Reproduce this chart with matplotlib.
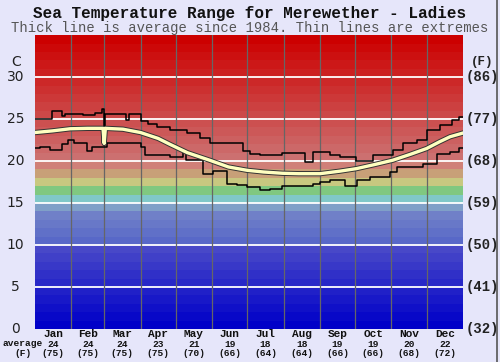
import matplotlib
matplotlib.use('Agg')
import matplotlib.pyplot as plt
import matplotlib.patheffects as pe
import numpy as np

# monthly table under the chart
months = ['Jan', 'Feb', 'Mar', 'Apr', 'May', 'Jun', 'Jul', 'Aug', 'Sep', 'Oct', 'Nov', 'Dec']
avg_c = [24, 24, 24, 23, 21, 19, 18, 18, 19, 19, 20, 22]
avg_f = [75, 75, 75, 75, 70, 66, 64, 64, 66, 66, 68, 72]
month_days = [31, 28, 31, 30, 31, 30, 31, 31, 30, 31, 30, 31]

# average line (day of year, deg C)
avg_day = [0, 15, 30, 45, 58, 59, 60, 75, 90, 105, 115, 130, 149, 165, 181, 195,
           211, 225, 243, 260, 274, 290, 305, 320, 334, 345, 354, 364]
avg_val = [23.4, 23.6, 23.85, 23.9, 23.9, 22.1, 23.9, 23.8, 23.4, 22.7, 22.0, 21.0,
           20.1, 19.3, 18.9, 18.7, 18.55, 18.5, 18.5, 18.8, 19.1, 19.6, 20.1, 20.8,
           21.5, 22.3, 22.9, 23.3]

# highest recorded (step line)
max_day = [0, 14.5, 23, 26, 41, 51, 57, 59, 60, 78, 80, 90, 96, 104, 115, 130, 141,
           149, 166, 177, 183, 192, 211, 230, 237, 252, 260, 274, 288, 305, 314, 326,
           334, 345, 356, 362, 365]
max_val = [25.0, 26.0, 25.4, 25.6, 25.5, 25.7, 26.2, 23.6, 25.6, 24.9, 25.6, 24.8,
           24.4, 24.1, 23.7, 23.3, 22.7, 22.2, 22.1, 21.2, 20.9, 20.7, 21.0, 19.9,
           21.1, 20.7, 20.5, 20.0, 20.7, 21.3, 22.1, 22.5, 23.7, 24.3, 24.9, 25.3, 25.3]

# lowest recorded (step line)
min_day = [0, 4, 13, 23, 28, 33, 44, 49, 61, 90, 94, 115, 126, 129, 143, 152, 164,
           172, 181, 192, 200, 211, 237, 243, 252, 264, 275, 286, 303, 309, 331, 343,
           354, 362, 365]
min_val = [21.6, 21.7, 21.3, 22.0, 22.5, 22.1, 21.2, 21.7, 22.2, 21.7, 20.7, 20.5,
           21.1, 20.1, 18.5, 18.8, 17.3, 17.1, 16.9, 16.5, 16.7, 17.0, 17.3, 17.5,
           17.7, 17.0, 17.7, 18.1, 18.7, 19.3, 19.7, 20.9, 21.1, 21.6, 21.6]

bg = '#e6e6fa'
fig = plt.figure(figsize=(5, 3.62), dpi=100, facecolor=bg)
ax = fig.add_axes([0.07, 0.091, 0.856, 0.812])

# colour bands, one per degree
band_cols = {}
for t in range(20, 35):
    v = int((34 - t) * 8)
    band_cols[t] = '#cc%02x%02x' % (v, v)
band_cols.update({19: '#d08078', 18: '#c8a078', 17: '#c8c880', 16: '#80c880',
                  15: '#80c8c8', 14: '#80a0c8', 13: '#7080c8', 12: '#6878c8',
                  11: '#6070c8', 10: '#5868c8'})
for t in range(0, 10):
    v = int(t * 8)
    band_cols[t] = '#%02x%02xc8' % (v, v)
for t, c in band_cols.items():
    ax.axhspan(t, t + 1, color=c, lw=0)

for y in range(5, 35, 5):
    ax.axhline(y, color='white', lw=1.3)
edges = np.cumsum(month_days)
for e in edges[:-1]:
    ax.axvline(e, color='#666666', lw=0.9)

ax.plot(max_day, max_val, drawstyle='steps-post', color='black', lw=1.1)
ax.plot(min_day, min_val, drawstyle='steps-post', color='black', lw=1.1)
ax.plot(avg_day, avg_val, color='#ffffc0', lw=2.4,
        path_effects=[pe.Stroke(linewidth=3.8, foreground='#333333'), pe.Normal()])

ax.set_xlim(0, 365)
ax.set_ylim(0, 35)
ax.set_xticks([])
ax.set_yticks([])
for s in ax.spines.values():
    s.set_visible(False)

mono = 'Liberation Mono'
yt = ax.get_yaxis_transform()
for c in range(0, 35, 5):
    ax.text(-0.045, c, str(c), transform=yt, ha='center', va='center', fontsize=10,
            color='#222222')
    ax.text(1.045, c, '(%d)' % round(c * 9 / 5 + 32), transform=yt, ha='center',
            va='center', fontsize=10, family=mono, weight='bold', color='#222222')
ax.text(-0.045, 31.8, 'C', transform=yt, ha='center', va='center', fontsize=10,
        color='#222222')
ax.text(1.045, 31.8, '(F)', transform=yt, ha='center', va='center', fontsize=9,
        family=mono, weight='bold', color='#222222')

starts = np.concatenate([[0], edges[:-1]])
xt = ax.get_xaxis_transform()
for i, m in enumerate(months):
    cx = starts[i] + month_days[i] / 2
    ax.text(cx, -0.016, m, transform=xt, ha='center', va='center', fontsize=8,
            family=mono, weight='bold', color='#111111')
    ax.text(cx, -0.051, str(avg_c[i]), transform=xt, ha='center', va='center',
            fontsize=6.8, family=mono, weight='bold', color='#111111')
    ax.text(cx, -0.0835, '(%d)' % avg_f[i], transform=xt, ha='center', va='center',
            fontsize=6.8, family=mono, weight='bold', color='#111111')
fig.text(0.045, 0.0505, 'average', ha='center', va='center', fontsize=6.8, family=mono,
         weight='bold', color='#111111')
fig.text(0.045, 0.0235, '(F)', ha='center', va='center', fontsize=6.8, family=mono,
         weight='bold', color='#111111')

fig.text(0.5, 0.963, 'Sea Temperature Range for Merewether - Ladies', ha='center',
         va='center', fontsize=11.5, family=mono, weight='bold', color='#111111')
fig.text(0.5, 0.922, 'Thick line is average since 1984. Thin lines are extremes',
         ha='center', va='center', fontsize=10, family=mono, color='#555555')

fig.add_artist(plt.Line2D([0.993, 0.993], [0, 1], color='#555555', lw=1.2))

fig.savefig('out.png', dpi=100, facecolor=bg)
